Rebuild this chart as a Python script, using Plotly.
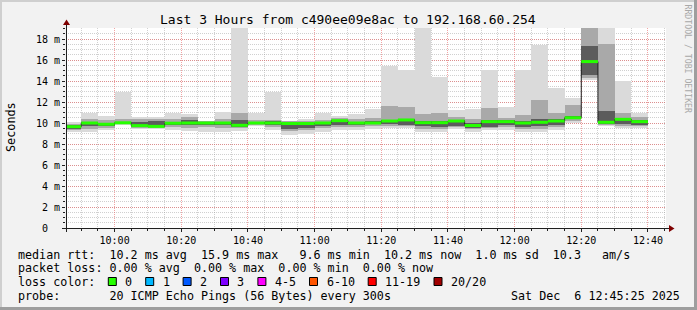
import plotly.graph_objects as go
import pandas as pd

# ---------------- data ----------------
slot_start = pd.date_range("2025-12-06 09:45:00", periods=35, freq="5min")
slot_mid = slot_start + pd.Timedelta(seconds=150)
slot_end = slot_start + pd.Timedelta(seconds=300)

# smoke bands (ms): outer (min..max), middle (lo..hi), inner (dlo..dhi), median
rtt_min = [9.10, 9.17, 9.33, 9.80, 9.40, 9.40, 9.33, 9.20, 9.17, 9.17,
           9.27, 9.71, 9.33, 8.86, 9.00, 9.17, 9.33, 9.30, 9.40, 9.50,
           9.50, 9.17, 9.17, 9.40, 9.17, 9.33, 9.33, 9.17, 9.17, 9.33,
           10.00, 14.10, 9.75, 9.50, 9.50]
rtt_lo = [9.30, 9.45, 9.55, 9.90, 9.55, 9.55, 9.60, 9.55, 9.60, 9.55,
          9.50, 9.80, 9.60, 9.20, 9.30, 9.50, 9.60, 9.60, 9.70, 9.75,
          9.70, 9.40, 9.45, 9.60, 9.40, 9.50, 9.60, 9.40, 9.45, 9.60,
          10.20, 14.30, 9.85, 9.75, 9.70]
rtt_dlo = [9.45, 9.75, 9.70, 9.97, 9.65, 9.62, 9.85, 9.85, 9.90, 9.85,
           9.65, 9.90, 9.85, 9.45, 9.50, 9.75, 9.80, 9.80, 9.90, 9.90,
           9.85, 9.70, 9.60, 9.75, 9.55, 9.65, 9.80, 9.60, 9.70, 9.85,
           10.35, 14.60, 9.95, 9.90, 9.85]
rtt_median = [9.65, 10.00, 9.88, 10.02, 9.75, 9.68, 9.98, 10.00, 10.00, 10.00,
              9.78, 10.00, 10.00, 9.95, 9.95, 10.00, 10.22, 10.00, 10.00, 10.19,
              10.29, 10.03, 10.03, 10.19, 9.76, 10.13, 10.13, 10.00, 10.07, 10.19,
              10.50, 15.85, 10.07, 10.35, 10.13]
rtt_dhi = [9.80, 10.10, 9.98, 10.10, 10.10, 10.20, 10.10, 10.30, 10.08, 10.10,
           10.30, 10.10, 10.15, 10.00, 10.00, 10.05, 10.28, 10.10, 10.20, 10.30,
           10.40, 10.20, 10.20, 10.30, 10.00, 10.25, 10.25, 10.15, 10.40, 10.40,
           10.70, 17.30, 11.10, 10.50, 10.25]
rtt_hi = [9.95, 10.35, 10.25, 10.40, 10.35, 10.35, 10.40, 10.55, 10.15, 10.40,
          11.00, 10.30, 10.30, 10.15, 10.20, 10.30, 10.45, 10.40, 10.50, 11.60,
          11.50, 10.90, 11.00, 10.60, 10.40, 11.40, 10.50, 10.80, 12.20, 11.00,
          11.70, 21.00, 17.50, 11.00, 10.60]
rtt_max = [10.05, 10.95, 10.65, 13.00, 10.60, 10.55, 11.00, 10.83, 10.20, 11.07,
           21.00, 11.00, 13.00, 10.20, 10.40, 11.00, 10.70, 10.90, 11.30, 15.46,
           15.05, 21.00, 14.40, 11.20, 11.30, 15.05, 11.55, 15.05, 17.40, 13.30,
           12.40, 21.00, 21.00, 14.00, 11.00]

y_ticks = [0, 2, 4, 6, 8, 10, 12, 14, 16, 18]
y_labels = ["0\u00a0\u00a0"] + [f"{v}\u00a0m" for v in y_ticks[1:]]

title = "Last 3 Hours from c490ee09e8ac to 192.168.60.254"
legend_rows = [
    "median rtt:  10.2 ms avg  15.9 ms max   9.6 ms min  10.2 ms now  1.0 ms sd  10.3   am/s",
    "packet loss: 0.00 % avg  0.00 % max  0.00 % min  0.00 % now",
    "loss color:",
    "probe:       20 ICMP Echo Pings (56 Bytes) every 300s",
]
loss_labels = ["0", "1", "2", "3", "4-5", "6-10", "11-19", "20/20"]
loss_colors = ["#26ff00", "#00b8ff", "#0059ff", "#7e00ff", "#ff00ff", "#ff5500", "#ff0000", "#a10000"]
stamp = "Sat Dec  6 12:45:25 2025"

# ---------------- geometry ----------------
W, H = 697, 310
L, R, T, B = 66, 31, 28, 82
PW, PH = W - L - R, H - T - B
MONO = "DejaVu Sans Mono"
LEG_FS = 11.7


def px(x):
    return (x - L) / PW


def py(y):
    return (T + PH - y) / PH


def nb(s):
    return s.replace(" ", "\u00a0")


fig = go.Figure()

bar_w = 300 * 1000
for lo, hi, col in [(rtt_min, rtt_max, "#dadada"),
                    (rtt_lo, rtt_hi, "#a9a9a9"),
                    (rtt_dlo, rtt_dhi, "#5c5c5c")]:
    fig.add_trace(go.Bar(
        x=slot_mid, base=lo, y=[h - l for l, h in zip(lo, hi)],
        width=bar_w, marker=dict(color=col, line=dict(width=0)),
        hoverinfo="skip", showlegend=False))

# thin dark median step line
fig.add_trace(go.Scatter(
    x=list(slot_start) + [slot_end[-1]], y=rtt_median + [rtt_median[-1]],
    mode="lines", line=dict(color="#202020", width=1, shape="hv"),
    hoverinfo="skip", showlegend=False))

# green median segments (0 % loss)
gx, gy = [], []
for s, e, m in zip(slot_start, slot_end, rtt_median):
    gx += [s, e, None]
    gy += [m, m, None]
fig.add_trace(go.Scatter(
    x=gx, y=gy, mode="lines", line=dict(color=loss_colors[0], width=3),
    hoverinfo="skip", showlegend=False))

shapes = []
# outer frame
shapes.append(dict(type="line", xref="paper", yref="paper", x0=px(0), x1=px(W), y0=py(1), y1=py(1),
                   line=dict(color="#cfcfcf", width=2)))
shapes.append(dict(type="line", xref="paper", yref="paper", x0=px(1), x1=px(1), y0=py(0), y1=py(H),
                   line=dict(color="#cfcfcf", width=2)))
shapes.append(dict(type="line", xref="paper", yref="paper", x0=px(0), x1=px(W), y0=py(H - 1.5), y1=py(H - 1.5),
                   line=dict(color="#9e9e9e", width=3)))
shapes.append(dict(type="line", xref="paper", yref="paper", x0=px(W - 1.5), x1=px(W - 1.5), y0=py(0), y1=py(H),
                   line=dict(color="#9e9e9e", width=3)))
# axes
shapes.append(dict(type="line", xref="paper", yref="paper", x0=px(66.5), x1=px(66.5), y0=py(232), y1=py(24),
                   line=dict(color="#202020", width=1)))
shapes.append(dict(type="line", xref="paper", yref="paper", x0=px(62), x1=px(669), y0=py(228.5), y1=py(228.5),
                   line=dict(color="#202020", width=1)))
# arrows
shapes.append(dict(type="path", xref="paper", yref="paper",
                   path=f"M {px(66.5)},{py(19.5)} L {px(63)},{py(25)} L {px(70)},{py(25)} Z",
                   fillcolor="#7f0000", line=dict(width=0)))
shapes.append(dict(type="path", xref="paper", yref="paper",
                   path=f"M {px(674.5)},{py(228.5)} L {px(669)},{py(225)} L {px(669)},{py(232)} Z",
                   fillcolor="#7f0000", line=dict(width=0)))

annotations = []
annotations.append(dict(text=nb(title), x=px(348), y=py(19), xref="paper", yref="paper",
                        showarrow=False, xanchor="center", yanchor="middle",
                        font=dict(family=MONO, size=13, color="#000000")))
annotations.append(dict(text="Seconds", x=px(11), y=py(127), xref="paper", yref="paper",
                        showarrow=False, textangle=-90, xanchor="center", yanchor="middle",
                        font=dict(family=MONO, size=11.8, color="#000000")))
annotations.append(dict(text=nb("RRDTOOL / TOBI OETIKER"), x=px(687.5), y=py(59), xref="paper", yref="paper",
                        showarrow=False, textangle=90, xanchor="center", yanchor="middle",
                        font=dict(family=MONO, size=8.2, color="#a8a8a8")))

CW = LEG_FS * 0.602
LX = 16
row_y = [254.7, 268.0, 282.3, 295.7]
for txt, yy in zip(legend_rows, row_y):
    annotations.append(dict(text=nb(txt), x=px(LX), y=py(yy), xref="paper", yref="paper",
                            showarrow=False, xanchor="left", yanchor="middle",
                            font=dict(family=MONO, size=LEG_FS, color="#000000")))
annotations.append(dict(text=nb(stamp), x=px(681.5), y=py(row_y[3]), xref="paper", yref="paper",
                        showarrow=False, xanchor="right", yanchor="middle",
                        font=dict(family=MONO, size=LEG_FS, color="#000000")))

bx = 108.3
for lab, col in zip(loss_labels, loss_colors):
    shapes.append(dict(type="rect", xref="paper", yref="paper",
                       x0=px(bx), x1=px(bx + 8), y0=py(277.5), y1=py(285.5),
                       fillcolor=col, line=dict(color="#000000", width=1)))
    annotations.append(dict(text=nb(lab), x=px(bx + 15), y=py(row_y[2]), xref="paper", yref="paper",
                            showarrow=False, xanchor="left", yanchor="middle",
                            font=dict(family=MONO, size=LEG_FS, color="#000000")))
    bx += 15 + len(lab) * 7.1 + 15.3

fig.update_layout(
    width=W, height=H,
    margin=dict(l=L, r=R, t=T, b=B, pad=0),
    paper_bgcolor="#f2f2f2", plot_bgcolor="#ffffff",
    barmode="overlay", bargap=0, showlegend=False, hovermode=False,
    shapes=shapes, annotations=annotations,
    xaxis=dict(
        type="date", range=["2025-12-06 09:45:25", "2025-12-06 12:45:25"],
        tick0="2025-12-06 10:00:00", dtick=20 * 60 * 1000, tickformat="%H:%M",
        showgrid=True, gridcolor="rgba(230,90,90,0.55)", griddash="1px,1px", gridwidth=1,
        ticks="outside", ticklen=3, tickcolor="#202020",
        minor=dict(dtick=5 * 60 * 1000, tick0="2025-12-06 09:45:00", showgrid=True,
                   gridcolor="rgba(150,150,150,0.45)", griddash="1px,1px", gridwidth=1,
                   ticks="outside", ticklen=2, tickcolor="#202020"),
        showline=False, zeroline=False, automargin=False, fixedrange=True,
        tickfont=dict(family=MONO, size=10, color="#000000"),
    ),
    yaxis=dict(
        range=[0, PH / 10.5], tickvals=y_ticks, ticktext=y_labels,
        showgrid=True, gridcolor="rgba(230,90,90,0.55)", griddash="1px,1px", gridwidth=1,
        ticks="outside", ticklen=3, tickcolor="#202020",
        minor=dict(dtick=0.5, showgrid=True, gridcolor="rgba(150,150,150,0.45)",
                   griddash="1px,1px", gridwidth=1, ticks="outside", ticklen=2, tickcolor="#202020"),
        showline=False, zeroline=False, automargin=False, fixedrange=True,
        tickfont=dict(family=MONO, size=10, color="#000000"),
    ),
)

fig.write_html("out.html")
